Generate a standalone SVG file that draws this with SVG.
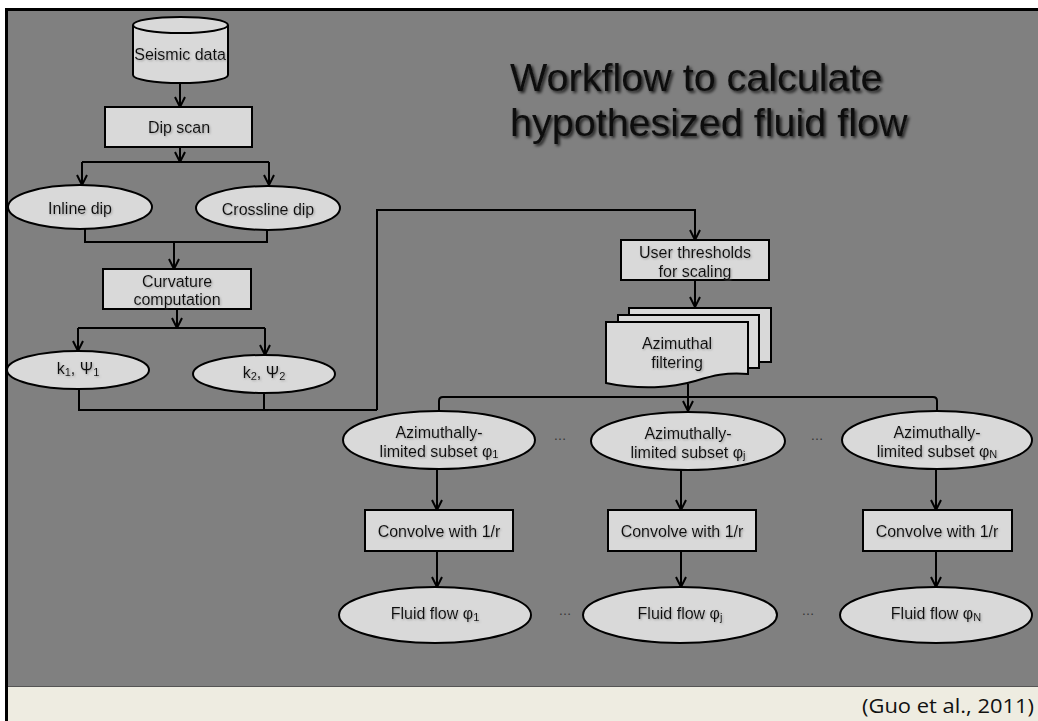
<svg xmlns="http://www.w3.org/2000/svg" width="1038" height="721" viewBox="0 0 1038 721">
<defs>
<marker id="arr" viewBox="0 0 12 12" refX="11" refY="6" markerWidth="12" markerHeight="12" markerUnits="userSpaceOnUse" orient="auto">
<path d="M1,1 L11,6 L1,11" fill="none" stroke="#000" stroke-width="2"/>
</marker>
<filter id="tsh" x="-5%" y="-20%" width="115%" height="160%">
<feDropShadow dx="2" dy="2" stdDeviation="1.5" flood-color="#000" flood-opacity="0.75"/>
</filter>
<filter id="nsh" x="-5%" y="-20%" width="115%" height="160%">
<feDropShadow dx="1" dy="1" stdDeviation="0.8" flood-color="#777" flood-opacity="0.6"/>
</filter>
</defs>
<style>
.nd{fill:#D9D9D9;stroke:#000;stroke-width:2}
.t{font-family:"Liberation Sans",Arial,sans-serif;font-size:16px;fill:#111;text-anchor:middle;dominant-baseline:central;filter:url(#nsh)}
.c{fill:none;stroke:#000;stroke-width:2}
.a{fill:none;stroke:#000;stroke-width:2;marker-end:url(#arr)}
.dots{font-family:"Liberation Sans",Arial,sans-serif;font-size:13px;fill:#333;text-anchor:middle}
</style>
<rect x="0" y="0" width="1038" height="721" fill="#fff"/>
<rect x="8" y="11" width="1030" height="676" fill="#808080"/>
<rect x="8" y="687" width="1030" height="34" fill="#EEECE1"/>
<line x1="8" y1="686.5" x2="1038" y2="686.5" stroke="#555" stroke-width="1"/>
<rect x="5" y="8" width="1033" height="3" fill="#000"/>
<rect x="5" y="8" width="3" height="713" fill="#000"/>

<g id="title">
<text x="510" y="91" font-family="Liberation Sans, Arial, sans-serif" font-size="39.5" fill="#111" filter="url(#tsh)">Workflow to calculate</text>
<text x="510" y="136" font-family="Liberation Sans, Arial, sans-serif" font-size="39.5" fill="#111" filter="url(#tsh)">hypothesized fluid flow</text>
</g>
<g id="citation">
<text x="1034" y="713" font-family="Open Sans, Lato, sans-serif" font-size="20" fill="#111" text-anchor="end" textLength="172" lengthAdjust="spacingAndGlyphs">(Guo et al., 2011)</text>
</g>

<g id="connectors">
<line class="a" x1="180" y1="83" x2="180" y2="107"/>
<line class="a" x1="180" y1="147" x2="180" y2="162"/>
<polyline class="a" points="82,162 82,185"/>
<line class="c" x1="82" y1="162" x2="269" y2="162"/>
<polyline class="a" points="269,162 269,185"/>
<polyline class="c" points="85,229 85,242 267,242 267,230"/>
<line class="a" x1="174" y1="242" x2="174" y2="269"/>
<line class="a" x1="177" y1="309" x2="177" y2="328"/>
<line class="c" x1="78" y1="328" x2="265" y2="328"/>
<line class="a" x1="78" y1="328" x2="78" y2="351"/>
<line class="a" x1="265" y1="328" x2="265" y2="355"/>
<polyline class="c" points="79,389 79,410 377,410"/>
<line class="c" x1="264" y1="393" x2="264" y2="410"/>
<polyline class="a" points="377,410 377,210 695,210 695,240"/>
<line class="a" x1="695" y1="280" x2="695" y2="307"/>
<line class="c" x1="688" y1="384" x2="688" y2="397"/>
<line class="a" x1="688" y1="397" x2="688" y2="411"/>
<path class="c" d="M439,411 L439,401 Q439,397 443,397 L933,397 Q937,397 937,401 L937,411"/>
<line class="a" x1="437" y1="469" x2="437" y2="510"/>
<line class="a" x1="681" y1="470" x2="681" y2="510"/>
<line class="a" x1="936" y1="469" x2="936" y2="510"/>
<line class="a" x1="437" y1="551" x2="437" y2="587"/>
<line class="a" x1="681" y1="551" x2="681" y2="587"/>
<line class="a" x1="936" y1="551" x2="936" y2="587"/>
</g>

<g id="seismic">
<path class="nd" d="M133,25 L133,75 A47.5,8 0 0 0 228,75 L228,25"/>
<ellipse class="nd" cx="180.5" cy="25" rx="47.5" ry="8"/>
<text class="t" x="180" y="54">Seismic data</text>
</g>
<g id="dipscan">
<rect class="nd" x="105" y="107" width="147" height="40"/>
<text class="t" x="179" y="127">Dip scan</text>
</g>
<g id="inline">
<ellipse class="nd" cx="80" cy="207" rx="72" ry="22"/>
<text class="t" x="80" y="208">Inline dip</text>
</g>
<g id="crossline">
<ellipse class="nd" cx="268" cy="208" rx="72" ry="22"/>
<text class="t" x="268" y="209">Crossline dip</text>
</g>
<g id="curvature">
<rect class="nd" x="103" y="269" width="148" height="40"/>
<text class="t" x="177" y="281">Curvature</text>
<text class="t" x="177" y="299">computation</text>
</g>
<g id="k1">
<ellipse class="nd" cx="78" cy="370" rx="71" ry="19"/>
<text class="t" x="78" y="368">k<tspan font-size="11" dy="4">1</tspan><tspan dy="-4">, Ψ</tspan><tspan font-size="11" dy="4">1</tspan></text>
</g>
<g id="k2">
<ellipse class="nd" cx="264" cy="374" rx="71" ry="19"/>
<text class="t" x="264" y="372">k<tspan font-size="11" dy="4">2</tspan><tspan dy="-4">, Ψ</tspan><tspan font-size="11" dy="4">2</tspan></text>
</g>
<g id="thresholds">
<rect class="nd" x="621" y="240" width="148" height="40"/>
<text class="t" x="695" y="252">User thresholds</text>
<text class="t" x="695" y="271">for scaling</text>
</g>
<g id="azfilter">
<rect class="nd" x="629" y="308" width="142" height="54"/>
<rect class="nd" x="618" y="315" width="141" height="53"/>
<path class="nd" d="M606,322 L748,322 L748,374 C725,372 712,376 695,381 C672,388 640,390 606,383 Z"/>
<text class="t" x="677" y="343">Azimuthal</text>
<text class="t" x="677" y="362">filtering</text>
</g>
<g id="sub1">
<ellipse class="nd" cx="439" cy="440" rx="96" ry="29"/>
<text class="t" x="439" y="432">Azimuthally-</text>
<text class="t" x="439" y="451">limited subset φ<tspan font-size="11" dy="3">1</tspan></text>
</g>
<g id="subj">
<ellipse class="nd" cx="688" cy="441" rx="97" ry="29"/>
<text class="t" x="688" y="433">Azimuthally-</text>
<text class="t" x="688" y="452">limited subset φ<tspan font-size="11" dy="3">j</tspan></text>
</g>
<g id="subN">
<ellipse class="nd" cx="937" cy="440" rx="95" ry="29"/>
<text class="t" x="937" y="432">Azimuthally-</text>
<text class="t" x="937" y="451">limited subset φ<tspan font-size="11" dy="3">N</tspan></text>
</g>
<g id="conv1">
<rect class="nd" x="365" y="510" width="148" height="41"/>
<text class="t" x="439" y="531">Convolve with  1/r</text>
</g>
<g id="convj">
<rect class="nd" x="608" y="510" width="148" height="41"/>
<text class="t" x="682" y="531">Convolve with  1/r</text>
</g>
<g id="convN">
<rect class="nd" x="863" y="510" width="149" height="41"/>
<text class="t" x="937" y="531">Convolve with  1/r</text>
</g>
<g id="flow1">
<ellipse class="nd" cx="435" cy="615" rx="96" ry="28"/>
<text class="t" x="435" y="613">Fluid flow φ<tspan font-size="11" dy="4">1</tspan></text>
</g>
<g id="flowj">
<ellipse class="nd" cx="680" cy="615" rx="97" ry="28"/>
<text class="t" x="680" y="613">Fluid flow φ<tspan font-size="11" dy="4">j</tspan></text>
</g>
<g id="flowN">
<ellipse class="nd" cx="936" cy="615" rx="96" ry="28"/>
<text class="t" x="936" y="613">Fluid flow φ<tspan font-size="11" dy="4">N</tspan></text>
</g>
<g id="ellipses">
<text class="dots" x="560" y="440">…</text>
<text class="dots" x="817" y="440">…</text>
<text class="dots" x="565" y="615">…</text>
<text class="dots" x="808" y="615">…</text>
</g>
</svg>
